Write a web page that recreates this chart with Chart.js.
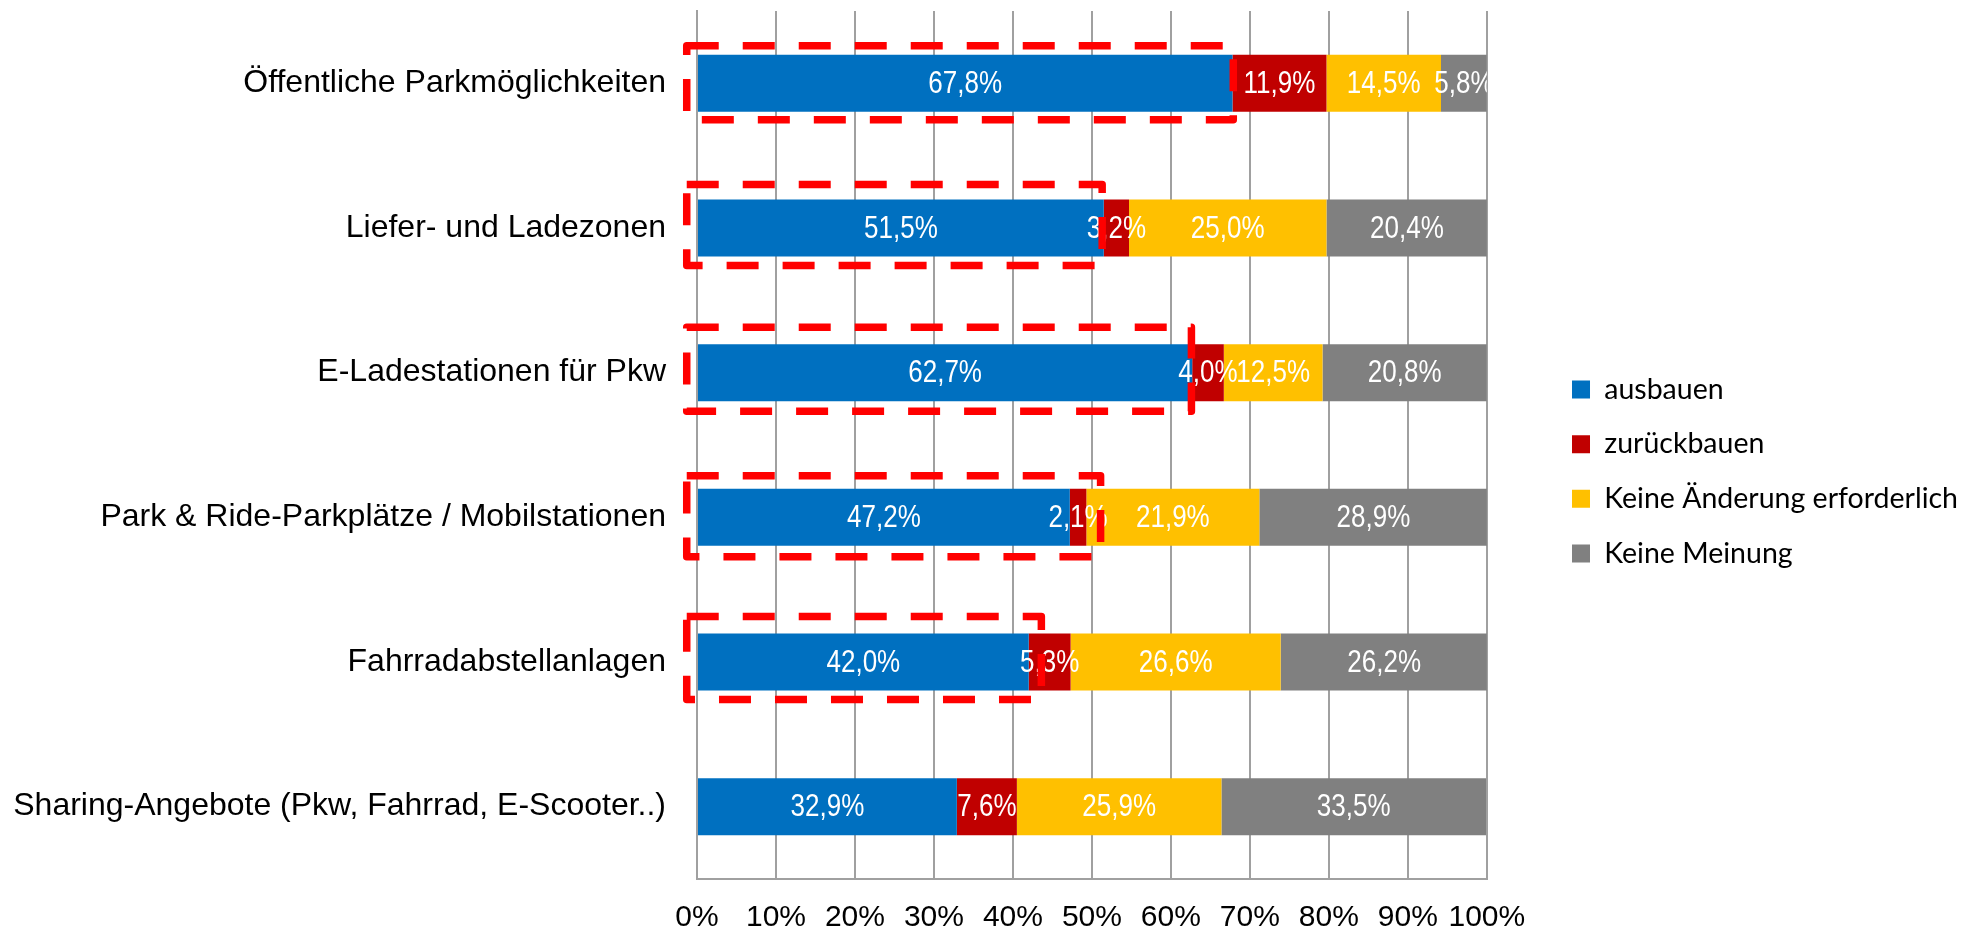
<!DOCTYPE html>
<html>
<head>
<meta charset="utf-8">
<script src="https://cdn.jsdelivr.net/npm/chart.js@4.4.1/dist/chart.umd.min.js"></script>
<style>
html,body{margin:0;padding:0;background:#ffffff;}
#wrap{width:1968px;height:932px;position:relative;}
</style>
</head>
<body>
<div id="wrap"><canvas id="c" width="1968" height="932"></canvas></div>
<script>
// ---- data ----
const categories = [
  'Öffentliche Parkmöglichkeiten',
  'Liefer- und Ladezonen',
  'E-Ladestationen für Pkw',
  'Park & Ride-Parkplätze / Mobilstationen',
  'Fahrradabstellanlagen',
  'Sharing-Angebote (Pkw, Fahrrad, E-Scooter..)'
];
const seriesNames = ['ausbauen', 'zurückbauen', 'Keine Änderung erforderlich', 'Keine Meinung'];
const ausbauen       = [67.8, 51.5, 62.7, 47.2, 42.0, 32.9];
const zurueckbauen   = [11.9,  3.2,  4.0,  2.1,  5.3,  7.6];
const keineAenderung = [14.5, 25.0, 12.5, 21.9, 26.6, 25.9];
const keineMeinung   = [ 5.8, 20.4, 20.8, 28.9, 26.2, 33.5];
const xTickValues = [0, 10, 20, 30, 40, 50, 60, 70, 80, 90, 100];
// red dashed highlight boxes (value range on x axis), null = no box
const highlightStart = -1.3;
const highlightEnd = [67.9, 51.3, 62.6, 51.1, 43.6, null];

const seriesColors = ['#0070C0', '#C00000', '#FFC000', '#808080'];

const labelFamily = '"Liberation Sans", Arial, sans-serif';
const fmt = v => v.toFixed(1).replace('.', ',') + '%';

const segmentLabels = {
  id: 'segmentLabels',
  afterDatasetsDraw(chart){
    const ctx = chart.ctx, a = chart.chartArea;
    ctx.save();
    ctx.beginPath();
    ctx.rect(a.left, a.top, a.right - a.left, a.bottom - a.top);
    ctx.clip();
    ctx.font = '31px ' + labelFamily;
    ctx.fillStyle = '#FFFFFF';
    ctx.textAlign = 'center';
    ctx.textBaseline = 'middle';
    chart.data.datasets.forEach((ds, i) => {
      const meta = chart.getDatasetMeta(i);
      meta.data.forEach((bar, j) => {
        const p = bar.getProps(['x', 'y', 'base'], true);
        ctx.save();
        ctx.translate((p.x + p.base) / 2, p.y + 1);
        ctx.scale(0.84, 1);
        ctx.fillText(fmt(ds.data[j]), 0, 0);
        ctx.restore();
      });
    });
    ctx.restore();
  }
};

const highlightBoxes = {
  id: 'highlightBoxes',
  afterDraw(chart, args, opts){
    const ctx = chart.ctx, xs = chart.scales.x;
    const meta = chart.getDatasetMeta(0);
    ctx.save();
    ctx.strokeStyle = '#FF0000';
    ctx.lineWidth = 7.5;
    ctx.setLineDash([32, 24]);
    ctx.lineJoin = 'round';
    highlightEnd.forEach((end, j) => {
      if (end === null) return;
      const bar = meta.data[j];
      const p = bar.getProps(['y', 'height'], true);
      const top = p.y - p.height / 2 - opts.padTop[j];
      const bottom = p.y + p.height / 2 + opts.padBottom[j];
      const l = xs.getPixelForValue(highlightStart);
      const r = xs.getPixelForValue(end);
      ctx.strokeRect(l, top, r - l, bottom - top);
    });
    ctx.restore();
  }
};

const seriesData = [ausbauen, zurueckbauen, keineAenderung, keineMeinung];

new Chart(document.getElementById('c'), {
  type: 'bar',
  data: {
    labels: categories,
    datasets: seriesNames.map((name, i) => ({
      label: name,
      data: seriesData[i],
      backgroundColor: seriesColors[i],
      borderWidth: 0,
      barPercentage: 0.394,
      categoryPercentage: 1.0
    }))
  },
  options: {
    indexAxis: 'y',
    responsive: false,
    animation: false,
    devicePixelRatio: 1,
    layout: { padding: { top: 11, left: 0, right: 0, bottom: 0 } },
    plugins: {
      tooltip: { enabled: false },
      highlightBoxes: {
        padTop: [9, 15, 17, 13, 17, 0],
        padBottom: [8, 9, 10, 11, 9, 0]
      },
      legend: {
        position: 'right',
        align: 'center',
        maxWidth: 424,
        labels: {
          boxWidth: 18,
          boxHeight: 18,
          padding: 26.2,
          color: '#000000',
          font: { family: 'Lato, "Open Sans", sans-serif', size: 28.5 }
        }
      }
    },
    scales: {
      x: {
        stacked: true,
        min: 0,
        max: 100,
        afterBuildTicks(s){ s.ticks = xTickValues.map(v => ({ value: v })); },
        afterFit(s){ s.height = 53; },
        ticks: {
          callback: v => v + '%',
          color: '#000000',
          font: { family: labelFamily, size: 30 },
          padding: 21,
          maxRotation: 0,
          autoSkip: false
        },
        grid: { color: '#A0A0A0', lineWidth: 2, drawTicks: false },
        border: { display: true, color: '#A0A0A0', width: 2 }
      },
      y: {
        stacked: true,
        afterFit(s){ s.width = 697; },
        grid: { display: false, drawTicks: true, tickLength: 31 },
        border: { display: true, color: '#A0A0A0', width: 2 },
        ticks: {
          color: '#000000',
          font: { family: labelFamily, size: 32, lineHeight: 0.6 },
          padding: 0
        }
      },
      y2: {
        position: 'right',
        afterFit(s){ s.width = 59; },
        grid: { display: false, drawTicks: false },
        border: { display: false },
        ticks: { display: false }
      }
    }
  },
  plugins: [segmentLabels, highlightBoxes]
});
</script>
</body>
</html>
